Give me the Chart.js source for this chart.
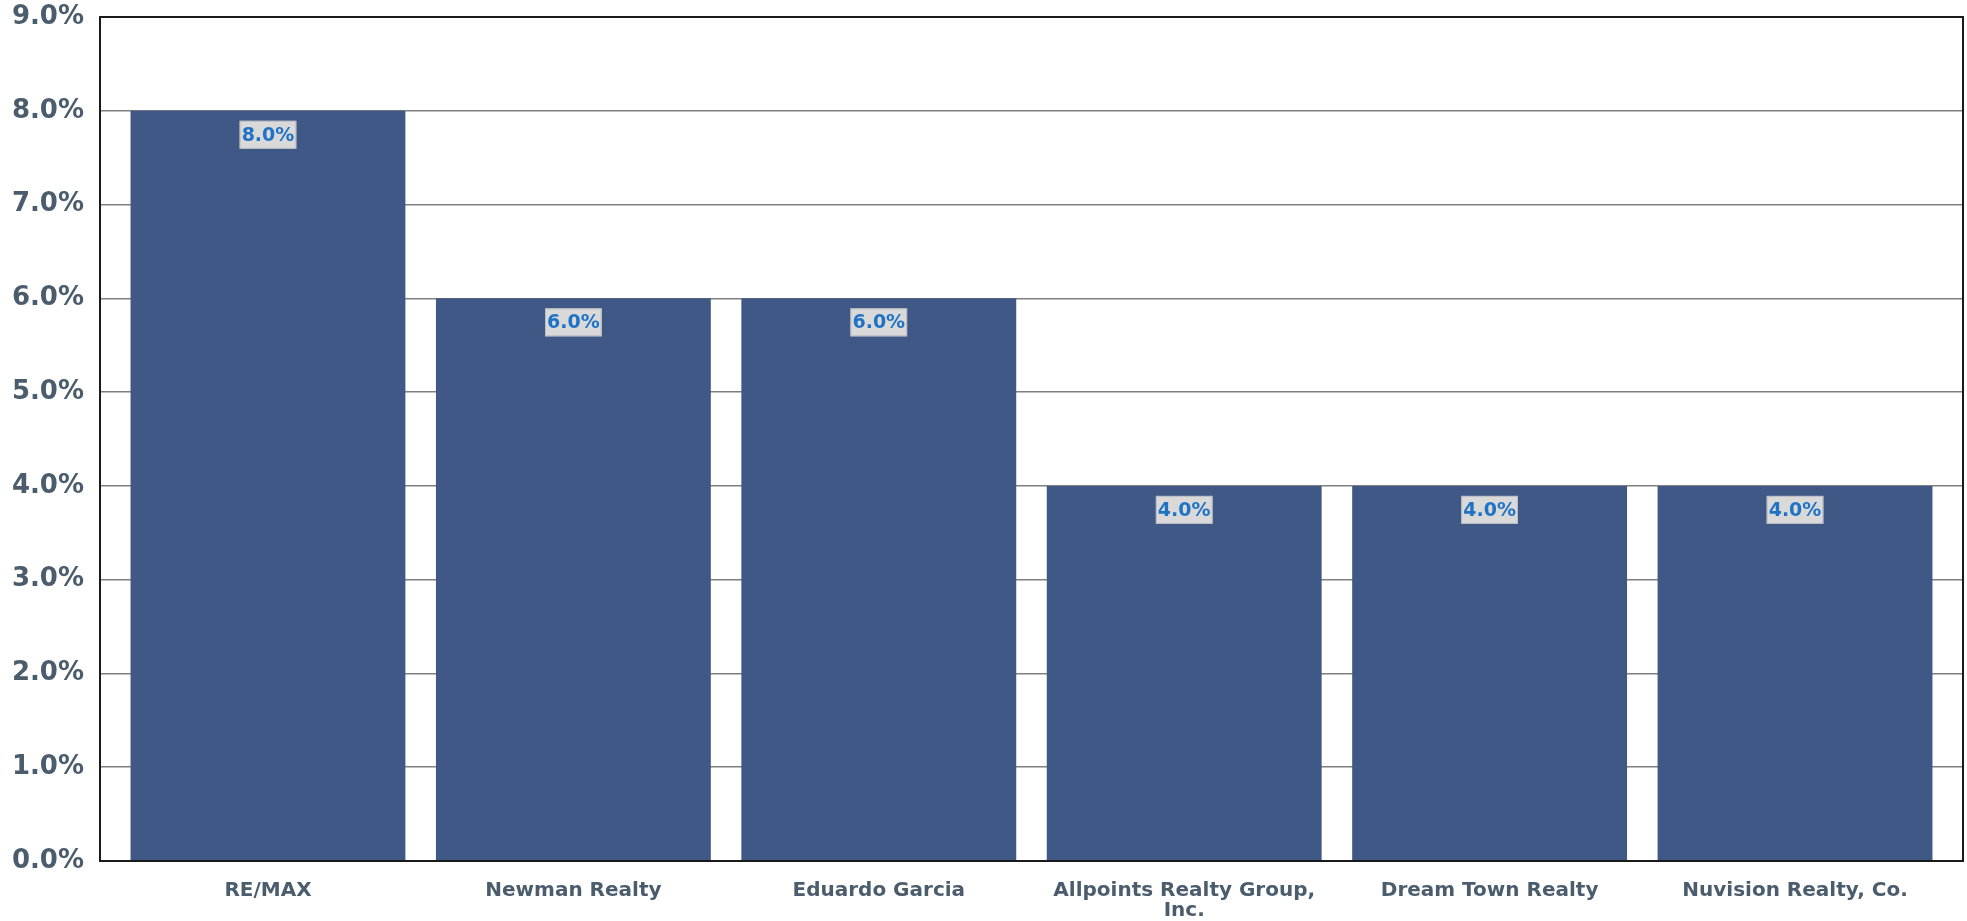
<!DOCTYPE html>
<html>
<head>
<meta charset="utf-8">
<script src="https://cdn.jsdelivr.net/npm/chart.js@4/dist/chart.umd.min.js"></script>
<style>
  html, body { margin: 0; padding: 0; background: #fff; }
  #wrap { width: 1967px; height: 921px; }
</style>
</head>
<body>
<div id="wrap"><canvas id="chart"></canvas></div>
<script>
// данные
const categories = ['RE/MAX', 'Newman Realty', 'Eduardo Garcia', ['Allpoints Realty Group,', 'Inc.'], 'Dream Town Realty', 'Nuvision Realty, Co.'];
const shares = [8.0, 6.0, 6.0, 4.0, 4.0, 4.0];
const yMax = 9;
const yStep = 1;

const labelColor = '#4b5d6d';

// подписи значений на столбцах
const valueLabels = {
    id: 'valueLabels',
    afterDatasetsDraw(chart) {
        const ctx = chart.ctx;
        const meta = chart.getDatasetMeta(0);
        ctx.save();
        ctx.font = 'bold 19px "DejaVu Sans"';
        ctx.textAlign = 'center';
        ctx.textBaseline = 'middle';
        meta.data.forEach((bar, i) => {
            const text = shares[i].toFixed(1) + '%';
            const w = ctx.measureText(text).width + 4;
            const h = 28;
            const top = bar.y + 10;
            ctx.fillStyle = '#d9d9d9';
            ctx.fillRect(bar.x - w / 2, top, w, h);
            ctx.strokeStyle = '#b8bcc4';
            ctx.lineWidth = 1;
            ctx.strokeRect(bar.x - w / 2 + 0.5, top + 0.5, w - 1, h - 1);
            ctx.fillStyle = '#1f72c4';
            ctx.fillText(text, bar.x, top + h / 2 + 1);
        });
        ctx.restore();
    }
};

// рамка области построения
const plotFrame = {
    id: 'plotFrame',
    afterDraw(chart) {
        const a = chart.chartArea;
        const ctx = chart.ctx;
        ctx.save();
        ctx.strokeStyle = '#1a1a1a';
        ctx.lineWidth = 2;
        ctx.strokeRect(a.left, a.top, a.right - a.left, a.bottom - a.top);
        ctx.restore();
    }
};

const points = shares.map((v, i) => ({ x: i, y: v }));

const ctx = document.getElementById('chart').getContext('2d');
const chart = new Chart(ctx, {
    type: 'bar',
    data: {
        datasets: [{
            data: points,
            backgroundColor: '#3f5886',
            borderWidth: 0,
            categoryPercentage: 1.0,
            barPercentage: 0.9
        }]
    },
    options: {
        responsive: true,
        maintainAspectRatio: false,
        animation: false,
        layout: {
            padding: { top: 17, right: 4, left: 0, bottom: 0 }
        },
        plugins: {
            legend: { display: false },
            tooltip: { enabled: false }
        },
        scales: {
            x: {
                type: 'linear',
                offset: false,
                min: -0.55,
                max: categories.length - 1 + 0.55,
                grid: { display: false, offset: false },
                border: { display: true, color: '#1a1a1a', width: 2 },
                ticks: {
                    color: labelColor,
                    font: { family: 'DejaVu Sans', weight: 'bold', size: 20, lineHeight: 1.0 },
                    padding: 12,
                    maxRotation: 0,
                    autoSkip: false,
                    callback: v => categories[v]
                },
                afterBuildTicks(scale) {
                    scale.ticks = categories.map((c, i) => ({ value: i }));
                },
                afterFit(scale) { scale.height = 60; }
            },
            y: {
                min: 0,
                max: yMax,
                z: 1,
                grid: {
                    color: 'rgba(0,0,0,0.5)',
                    lineWidth: 1.5,
                    drawTicks: false
                },
                border: { display: true, color: '#1a1a1a', width: 2 },
                ticks: {
                    stepSize: yStep,
                    color: labelColor,
                    font: { family: 'DejaVu Sans', weight: 'bold', size: 26 },
                    padding: 16,
                    callback: v => v.toFixed(1) + '%'
                },
                afterFit(scale) {
                    scale.width = 100;
                    scale.paddingTop = 0;
                    scale.paddingBottom = 0;
                }
            }
        }
    },
    plugins: [valueLabels, plotFrame]
});
</script>
</body>
</html>
